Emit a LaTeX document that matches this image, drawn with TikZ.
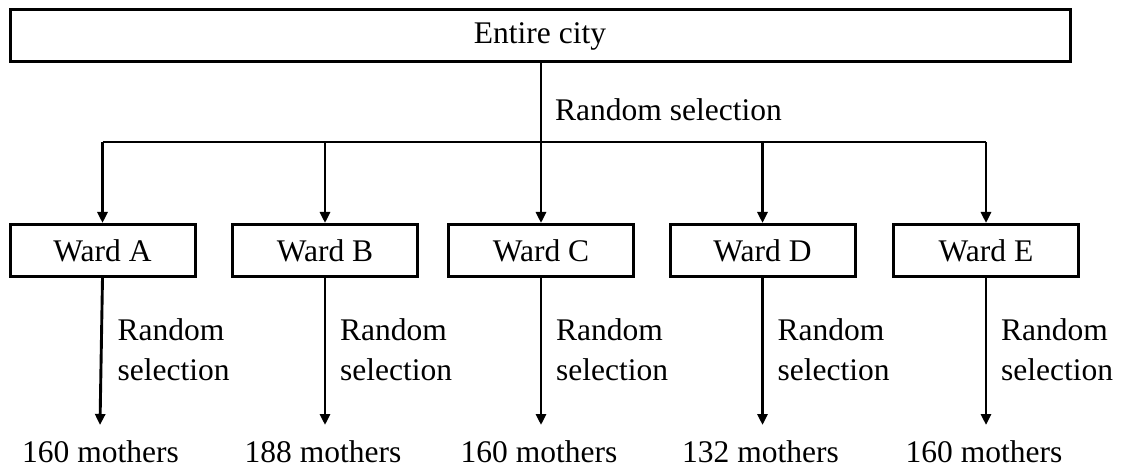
\documentclass[tikz,border=0pt]{standalone}
\usepackage{fontspec}
\setmainfont{Liberation Serif}
\usetikzlibrary{arrows.meta}
\tikzset{
  box/.style={draw, line width=3pt, minimum height=52pt, inner sep=0pt},
  lbl/.style={font=\fontsize{31.5}{40}\selectfont, inner sep=0pt},
  conn/.style={line width=2.9pt},
  arr/.style={conn, -{Triangle[length=11pt,width=10pt]}},
}
\begin{document}
\begin{tikzpicture}[x=1pt,y=-1pt]
\useasboundingbox (0,0) rectangle (1122,473);
\node[box, lbl, minimum width=1060pt] (city) at (540,36) {Entire city};
\foreach \n/\x/\m in {A/102.5/160, B/325/188, C/541/160, D/762.5/132, E/986/160}{
  \node[box, lbl, minimum width=185pt] (W\n) at (\x,250.5) {Ward \n};
  \coordinate (top\n) at (\x,142);
  \node[lbl, anchor=base] (M\n) at (\x-2,462) {\m\ mothers};
  \node[lbl, anchor=west, align=left] (R\n) at (\x+15,350) {Random\\selection};
}
\coordinate (tipA) at (100,425);
\coordinate (tipB) at (325,425);
\coordinate (tipC) at (541,425);
\coordinate (tipD) at (762.5,425);
\coordinate (tipE) at (986,425);
\coordinate (hub) at (541,142);
\node[lbl, anchor=base west] (rs) at (555,121) {Random selection};
\draw[conn] (city.south -| hub) -- (hub);
\draw[conn] (topA) -- (topE);
\foreach \n in {A,B,C,D,E}{
  \draw[arr] (top\n) -- (W\n.north);
  \draw[arr] (W\n.south) -- (tip\n);
}
\end{tikzpicture}
\end{document}
